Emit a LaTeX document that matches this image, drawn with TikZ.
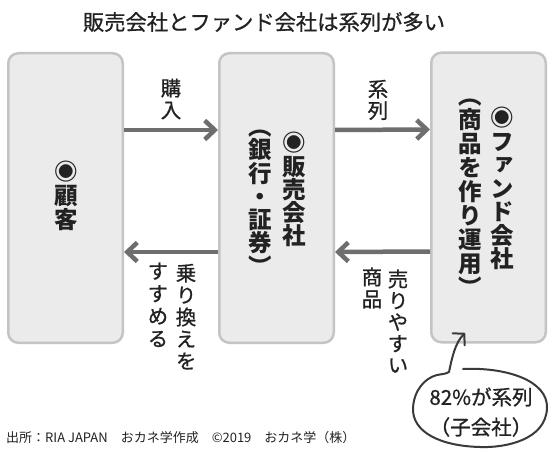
\documentclass[tikz,border=0pt]{standalone}
\usepackage{fontspec}
\setmainfont{Noto Sans CJK JP}
\newfontfamily\cjkv[RawFeature=+vert]{Noto Sans CJK JP}
\newfontfamily\cjkvm[RawFeature=+vert,FakeBold=0.8]{Noto Sans CJK JP}
\newfontfamily\cjkm[FakeBold=0.8]{Noto Sans CJK JP}
\usetikzlibrary{arrows.meta}
\definecolor{boxfill}{HTML}{EBEBEB}
\definecolor{boxline}{HTML}{C4C4C4}
\definecolor{arr}{HTML}{6E6E6E}
\definecolor{ink}{HTML}{222222}
\definecolor{bubink}{HTML}{3A3A3A}
% vertical column: name, x, y of first cell centre, step, size, font, list
\newcommand\vcol[7]{\foreach \c [count=\i from 0] in {#7}{\node[anchor=base,inner sep=0pt,text=ink,font=#6\fontsize{#5}{#5}\selectfont] (#1-\i) at (#2,{#3+\i*#4+0.38*#5}) {\c};}}
\begin{document}
\begin{tikzpicture}[x=1pt,y=-1pt,
  box/.style={draw=boxline,fill=boxfill,line width=2.5pt,rounded corners=10pt,
    minimum width=114.5pt,minimum height=289.5pt,inner sep=0pt},
  conn/.style={draw=arr,line width=4.5pt,-{Straight Barb[length=10pt,width=19pt]}},
  bub/.style={draw=bubink,line width=2pt,line cap=round,line join=round},
  plain/.style={inner sep=0pt,text=ink}]
\useasboundingbox (0,0) rectangle (554,452);
\fill[white] (0,0) rectangle (554,452);

% title
\node[plain,font=\cjkm\fontsize{21.3}{21.3}\selectfont] (title) at (264,22) {販売会社とファンド会社は系列が多い};

% boxes
\node[box] (b1) at (65.5,198) {};
\node[box] (b2) at (276.5,198) {};
\node[box] (b3) at (488.5,197.5) {};

% box texts
\vcol{t1}{66}{172}{24}{23.5}{\cjkv\bfseries}{◉,顧,客}
\vcol{t2a}{294}{143}{23.2}{23.5}{\cjkv\bfseries}{◉,販,売,会,社}
\vcol{t2b}{260}{126.5}{23.3}{23.5}{\cjkv\bfseries}{（,銀,行,・,証,券,）}
\vcol{t3a}{502}{118}{23.5}{23.5}{\cjkv\bfseries}{◉,フ,ァ,ン,ド,会,社}
\vcol{t3b}{470}{96}{23.9}{23.5}{\cjkv\bfseries}{（,商,品,を,作,り,運,用,）}

% connectors
\draw[conn] ([yshift=68pt]b1.east) -- ([yshift=68pt]b2.west);
\draw[conn] ([yshift=68pt]b2.east) -- ([yshift=68pt]b3.west);
\draw[conn] ([yshift=-54pt]b3.west) -- ([yshift=-54pt]b2.east);
\draw[conn] ([yshift=-54pt]b2.west) -- ([yshift=-54pt]b1.east);

% connector labels
\vcol{l1}{171}{88}{22}{20.5}{\cjkvm}{購,入}
\vcol{l2}{378}{89}{21.5}{20.5}{\cjkvm}{系,列}
\vcol{l3a}{186}{273}{22}{20.5}{\cjkvm}{乗,り,換,え,を}
\vcol{l3b}{158}{271}{22.5}{20.5}{\cjkvm}{す,す,め,る}
\vcol{l4a}{398}{279}{21.5}{20.5}{\cjkvm}{売,り,や,す,い}
\vcol{l4b}{372}{277}{22}{20.5}{\cjkvm}{商,品}

% speech bubble
\draw[bub] (463,369) .. controls (505,367) and (548,380) .. (547,408)
  .. controls (546,440) and (505,448) .. (480,447)
  .. controls (440,446) and (412,432) .. (413,408)
  .. controls (414,390) and (425,378) .. (437,375)
  .. controls (442,374) and (446,374) .. (449,372);
\draw[bub,-{Straight Barb[length=8pt,width=17pt,line cap=round,line join=round]}] (449,372) .. controls (452,358) and (455,343) .. (465,333);
\node[plain,font=\cjkm\fontsize{20.5}{20.5}\selectfont] (bt1) at (481,397) {82\%が系列};
\node[plain,font=\cjkm\fontsize{20.5}{20.5}\selectfont] (bt2) at (481,427) {（子会社）};

% footer
\node[plain,anchor=west,font=\fontsize{13}{13}\selectfont] (foot) at (6,438) {出所：RIA JAPAN　おカネ学作成　©2019　おカネ学（株）};
\end{tikzpicture}
\end{document}
